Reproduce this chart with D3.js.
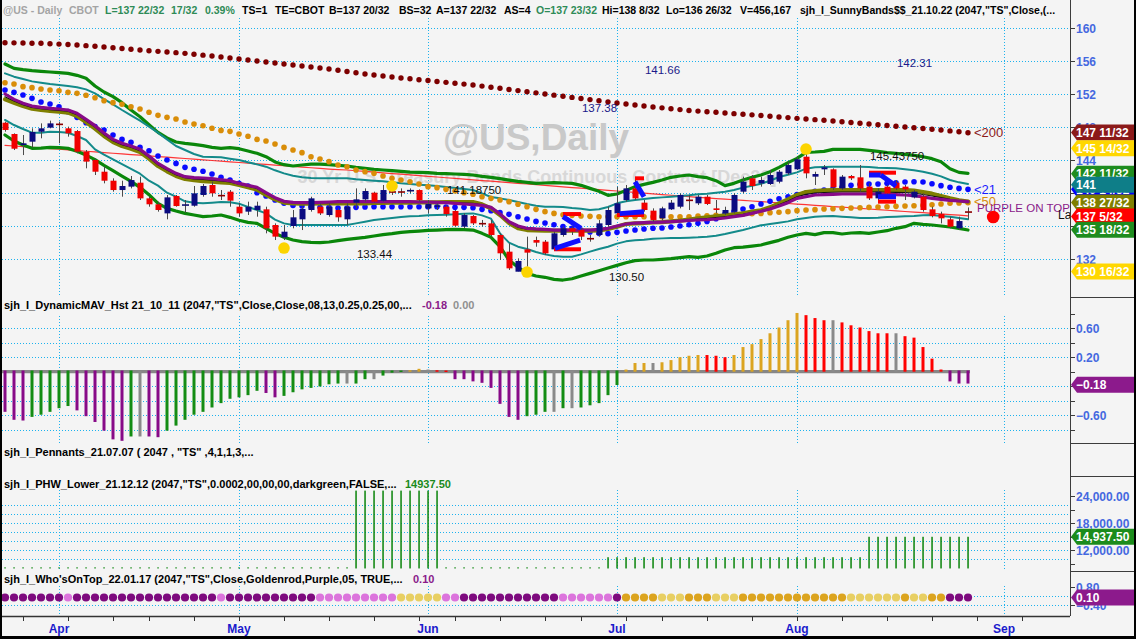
<!DOCTYPE html>
<html><head><meta charset="utf-8">
<script src="https://cdn.jsdelivr.net/npm/d3@7"></script>
<style>
html,body{margin:0;padding:0;background:#f4f4f4;overflow:hidden;}
svg{display:block;font-family:"Liberation Sans",Arial,sans-serif;}
</style></head><body>
<svg id="c" width="1136" height="639"></svg>
<script>
// ================= DATA =================
const months=['Apr','May','Jun','Jul','Aug','Sep'];
const monthStart=[6,26,47,68,88,111];           // bar index of first trading day of month
const weekStart=[2,7,12,16,21,26,31,36,41,46,50,55,60,64,69,73,78,83,88,93,98,103,108,113];

const open=[148.52,147.15,145.82,146.22,147.43,147.92,148.40,147.84,147.51,145.01,
144.00,142.58,141.49,140.36,140.77,141.25,139.35,138.63,137.53,139.64,
138.46,138.46,139.76,140.97,139.76,140.16,138.34,137.74,137.94,138.02,
136.12,134.63,136.00,136.81,137.94,138.34,137.33,137.94,136.81,138.83,
139.23,140.04,139.07,140.20,140.20,140.20,140.36,138.14,138.34,138.34,
137.82,135.92,137.21,136.36,136.32,134.91,132.89,130.46,133.17,134.30,
134.10,133.17,134.91,135.72,135.51,134.54,134.91,136.12,137.53,139.15,
140.56,138.83,137.86,136.93,138.02,138.34,139.19,138.75,139.55,138.14,
137.53,137.74,140.16,141.78,141.17,141.09,141.37,142.38,142.87,144.40,
141.98,142.87,142.87,140.56,142.06,141.90,140.77,139.35,140.77,141.25,
140.77,139.47,139.55,138.02,137.45,136.81,135.72,137.72];
const high=[148.65,147.23,147.03,147.84,148.44,148.77,148.65,148.04,147.64,145.21,
144.20,143.19,141.78,141.49,142.06,141.98,139.55,138.95,139.76,139.76,
139.15,140.85,141.09,141.37,140.36,140.36,138.83,138.95,138.95,138.34,
136.32,136.12,137.94,138.34,139.55,138.75,138.75,138.14,138.75,140.56,
140.56,140.16,140.97,140.77,140.56,140.56,140.44,139.15,138.75,138.54,
137.94,137.53,137.33,136.73,136.73,135.11,133.90,132.08,134.71,134.71,
134.30,135.31,135.92,135.92,135.72,134.91,136.73,138.34,140.77,140.97,
141.78,139.15,138.14,138.34,139.15,139.96,139.76,139.76,139.76,139.15,
138.34,139.96,141.98,142.18,141.98,142.79,142.79,143.80,144.40,144.90,
142.58,143.39,142.99,142.18,142.18,143.39,141.17,140.56,140.97,141.57,
140.97,140.36,139.96,138.34,137.74,137.13,137.13,138.25];
const low=[147.43,145.21,144.60,145.53,146.63,147.84,146.02,146.83,144.81,142.99,
142.18,141.17,140.16,139.55,140.56,139.15,138.34,137.74,136.81,138.34,
137.62,138.34,139.55,139.55,139.15,138.34,137.13,137.33,137.13,135.11,
134.30,134.30,135.72,135.51,137.74,137.33,137.13,136.52,136.12,138.14,
138.95,138.83,138.95,139.76,139.55,139.96,138.95,137.53,137.94,137.13,
135.92,135.72,136.12,135.92,134.71,131.88,130.67,130.50,131.07,133.49,
132.48,133.09,134.71,134.91,134.30,134.10,134.71,135.92,137.33,138.95,
139.15,137.74,136.52,136.73,137.94,138.14,137.94,138.54,138.54,137.53,
137.33,137.53,139.96,140.36,140.77,140.97,141.17,142.18,142.79,141.78,
140.97,142.18,140.36,140.36,141.57,140.16,139.15,139.15,139.76,140.36,
139.15,139.35,137.74,137.05,136.32,135.72,135.51,136.81];
const close=[147.64,145.37,146.02,147.39,147.84,148.44,148.32,147.23,145.01,143.80,
142.58,141.49,140.36,140.85,141.57,139.35,138.63,137.94,139.47,138.42,
138.54,139.96,140.85,139.96,139.68,139.07,137.53,138.34,138.46,135.72,
134.71,135.31,137.05,138.06,139.35,137.53,138.34,137.05,138.34,139.23,
140.24,138.95,140.36,140.12,140.12,140.28,139.15,138.67,138.50,137.45,
136.04,137.33,136.32,136.28,134.91,132.69,130.87,131.76,132.77,133.98,
132.69,135.11,135.72,135.31,134.71,134.46,136.32,137.94,138.75,140.56,
139.35,137.94,136.73,138.14,138.83,139.76,139.11,139.55,138.67,137.94,
137.94,139.76,141.37,140.85,141.57,142.18,142.58,143.39,144.08,142.38,
142.30,143.11,140.69,141.98,141.78,140.56,139.35,140.16,139.96,140.56,
140.44,140.16,137.94,137.21,136.93,135.92,136.60,137.69];

const sma200=[158.22,158.20,158.18,158.16,158.15,158.10,158.05,158.00,157.94,157.86,
157.78,157.70,157.61,157.52,157.43,157.34,157.25,157.17,157.09,157.01,
156.93,156.82,156.71,156.60,156.48,156.36,156.24,156.12,156.00,155.88,
155.76,155.64,155.52,155.40,155.28,155.15,155.03,154.88,154.73,154.58,
154.42,154.30,154.18,154.06,153.94,153.84,153.73,153.63,153.52,153.41,
153.31,153.20,153.09,152.96,152.82,152.69,152.55,152.41,152.28,152.14,
152.00,151.86,151.73,151.59,151.45,151.32,151.18,151.05,150.91,150.79,
150.67,150.54,150.42,150.32,150.21,150.11,150.00,149.93,149.85,149.78,
149.70,149.62,149.55,149.47,149.39,149.31,149.22,149.14,149.05,148.97,
148.89,148.81,148.73,148.64,148.55,148.45,148.36,148.27,148.18,148.09,
148.00,147.91,147.82,147.73,147.64,147.53,147.42,147.31];
const ema50=[153.37,153.21,152.89,152.77,152.60,152.48,152.40,152.20,152.08,151.84,
151.55,151.19,150.95,150.75,150.46,150.18,149.78,149.41,149.17,148.97,
148.61,148.36,148.16,147.84,147.59,147.47,147.15,146.87,146.50,146.30,
145.94,145.53,145.21,144.89,144.40,144.12,143.80,143.39,143.19,
142.79,142.59,142.38,142.06,141.78,141.57,141.37,141.09,140.77,140.65,
140.44,140.24,140.04,139.84,139.55,139.35,139.15,138.95,138.63,138.34,
138.02,137.74,137.53,137.37,137.29,137.21,137.17,137.13,137.13,137.13,
137.13,137.13,137.13,137.13,137.13,137.13,137.13,137.13,
137.21,137.25,137.29,137.33,137.41,137.45,137.49,137.53,137.62,137.66,
137.74,137.86,137.94,137.98,138.06,138.10,138.14,138.18,138.22,138.26,
138.30,138.34,138.38,138.42,138.46,138.50,138.58,138.67,138.75,138.79,138.83];
const ema21=[152.48,152.20,151.88,151.47,151.03,150.79,150.46,149.86,149.17,148.52,
148.04,147.64,147.03,146.50,146.14,145.53,145.13,144.48,144.00,143.59,
143.11,142.87,142.63,142.30,141.90,141.57,141.17,140.85,140.04,139.64,
139.15,138.75,138.50,138.42,138.34,138.26,138.26,138.18,138.18,
138.26,138.30,138.34,138.34,138.34,138.34,138.34,138.34,138.34,138.34,
138.30,138.26,138.26,138.22,138.02,137.86,137.62,137.41,137.13,136.85,
136.56,136.36,136.16,135.92,135.72,135.51,135.27,135.11,135.07,135.23,
135.39,135.51,135.64,135.72,135.76,135.88,136.00,136.16,
136.32,136.56,136.89,137.45,137.74,138.06,138.34,138.67,138.99,139.31,
139.55,139.80,140.00,140.20,140.36,140.52,140.69,140.93,141.05,141.09,
141.09,141.17,141.25,141.33,141.37,141.33,141.13,140.89,140.69,140.56,140.44];
const trendLine=[145.78,145.70,145.62,145.54,145.46,145.38,145.30,145.22,145.14,145.06,
144.98,144.90,144.82,144.74,144.66,144.58,144.50,144.42,144.34,144.26,
144.18,144.10,144.02,143.94,143.86,143.78,143.70,143.62,143.54,143.46,
143.38,143.30,143.22,143.14,143.06,142.98,142.90,142.84,142.79,
142.70,142.62,142.53,142.45,142.36,142.28,142.19,142.11,142.02,141.94,
141.85,141.77,141.68,141.60,141.51,141.43,141.34,141.26,141.17,141.09,
141.00,140.92,140.83,140.75,140.66,140.58,140.49,140.41,140.32,140.24,
140.15,140.07,139.98,139.90,139.81,139.73,139.64,139.56,
139.48,139.41,139.33,139.26,139.18,139.11,139.03,138.96,138.88,138.81,
138.73,138.66,138.58,138.51,138.43,138.36,138.28,138.21,138.13,138.06,
137.98,137.91,137.83,137.76,137.68,137.61,137.53,137.46,137.38,137.31,137.23];
const upperOuter=[155.64,155.11,154.95,154.83,154.75,154.67,154.58,154.50,154.26,153.90,
152.97,152.24,151.68,150.95,150.06,149.25,148.28,147.35,146.67,146.18,
146.02,145.90,145.74,145.53,145.41,145.49,145.37,145.09,144.81,144.40,
143.76,143.43,143.27,143.39,143.51,143.51,143.43,143.35,143.27,
143.11,142.99,142.87,142.79,142.71,142.63,142.54,142.50,142.46,142.38,
142.34,142.30,142.26,142.18,142.02,141.90,141.74,141.57,141.41,141.29,
141.17,141.21,141.25,141.21,141.17,140.93,140.56,140.20,139.72,139.88,
140.32,140.77,141.05,141.29,141.57,141.90,142.06,142.18,
141.98,141.86,141.49,140.89,141.17,141.57,141.90,142.18,142.58,143.11,
143.68,144.20,144.93,144.97,145.05,145.29,145.29,145.29,145.29,145.17,
145.05,144.89,144.81,144.69,144.56,144.40,144.16,143.80,142.95,142.50,142.38];
const lowerOuter=[147.03,146.30,145.82,145.41,145.45,145.53,145.49,145.41,145.05,144.60,
144.04,143.35,142.71,142.06,141.41,140.69,139.80,138.75,138.14,137.82,
137.53,137.33,137.13,137.21,137.33,137.05,136.69,136.44,136.32,135.72,
135.11,134.63,134.30,134.10,134.02,133.98,134.06,134.22,134.38,
134.50,134.63,134.79,134.95,135.07,135.23,135.31,135.39,135.47,135.51,
135.55,135.59,135.55,135.51,135.11,134.63,133.49,131.88,130.99,130.26,
129.94,129.78,129.53,129.45,129.61,129.94,130.26,130.58,130.91,131.23,
131.55,131.80,131.88,131.88,131.96,132.04,132.16,132.28,
132.20,132.36,132.69,133.09,133.37,133.45,133.57,133.70,133.98,134.26,
134.63,134.91,135.11,134.95,135.19,135.19,135.03,135.15,135.19,135.11,
135.27,135.43,135.72,135.92,136.32,136.20,136.12,136.00,135.88,135.72,135.51];
const upperInner=[154.50,154.10,153.82,153.53,153.37,153.21,153.09,152.97,152.81,152.56,
152.08,151.39,150.75,150.06,149.41,148.77,148.04,147.31,146.50,145.70,
145.21,144.73,144.40,144.36,144.32,144.16,144.00,143.72,143.47,143.19,
142.75,142.38,142.10,141.90,141.82,141.78,141.78,141.78,141.78,
141.66,141.57,141.49,141.41,141.29,141.17,141.09,141.01,140.93,140.85,
140.73,140.60,140.48,140.36,139.96,139.51,139.35,139.15,138.91,138.67,
138.46,138.34,138.34,138.30,138.18,138.10,137.94,138.02,138.30,138.75,
138.99,139.15,139.27,139.39,139.47,139.55,139.64,139.72,
139.84,139.92,140.04,140.16,140.36,140.65,140.89,141.13,141.49,141.94,
142.22,142.50,142.95,143.11,143.15,143.19,143.19,143.19,143.19,143.15,
143.07,143.03,142.99,142.87,142.75,142.58,142.34,142.02,141.57,141.29,141.09];
const lowerInner=[148.85,148.24,147.76,147.31,147.31,147.43,147.39,147.31,146.91,146.42,
145.29,144.65,144.08,143.51,142.91,142.34,141.49,140.89,140.04,139.55,
138.99,138.83,138.75,138.83,138.91,138.87,138.71,138.30,137.94,137.53,
136.77,136.32,136.12,136.12,136.12,136.12,136.12,136.12,136.12,
136.32,136.52,136.73,136.85,136.97,137.09,137.17,137.21,137.29,137.33,
137.37,137.41,137.49,137.53,137.29,136.89,135.11,133.98,133.49,133.21,
132.85,132.56,132.36,132.28,132.28,132.56,132.89,133.21,133.49,133.86,
134.14,134.26,134.34,134.46,134.50,134.54,134.54,134.58,
134.63,134.71,134.83,135.03,135.27,135.51,135.80,136.08,136.24,136.40,
136.56,136.81,136.97,137.13,137.17,137.21,137.13,137.05,136.97,136.97,
137.01,137.09,137.13,137.17,137.21,137.29,137.33,137.21,137.13,136.97,136.81];
const fastMA=[152.00,151.35,150.87,150.54,150.38,150.26,150.18,150.06,149.66,148.93,
148.16,147.27,146.50,146.02,145.70,145.29,144.48,143.59,142.95,142.38,
141.98,141.86,141.82,141.74,141.61,141.49,141.17,140.93,140.69,140.04,
139.43,138.99,138.87,138.83,138.83,138.87,138.91,138.95,138.95,
138.95,138.95,138.95,138.95,138.95,138.95,138.95,138.91,138.91,138.87,
138.83,138.75,138.67,138.58,138.50,138.26,137.45,136.52,136.00,135.72,
135.64,135.59,135.51,135.51,135.51,135.51,135.51,135.59,135.72,136.00,
136.24,136.36,136.40,136.44,136.48,136.52,136.60,136.69,
136.73,136.77,136.85,136.97,137.13,137.29,137.53,137.78,138.06,138.42,
138.83,139.35,139.55,139.76,139.80,139.84,139.88,139.88,139.88,139.88,
139.88,139.84,139.80,139.76,139.68,139.51,139.35,139.23,139.11,139.03,138.95];
const slowMA=[151.35,150.95,150.54,150.22,150.06,149.94,149.86,149.74,149.33,148.60,
147.80,146.91,146.18,145.70,145.37,144.97,144.16,143.27,142.63,142.06,
141.70,141.57,141.45,141.37,141.29,141.21,140.97,140.69,140.40,139.76,
139.23,138.83,138.75,138.71,138.71,138.75,138.75,138.75,138.75,
138.75,138.75,138.79,138.79,138.83,138.83,138.83,138.87,138.87,138.87,
138.91,138.91,138.91,138.91,138.63,138.14,137.33,136.36,135.72,135.51,
135.47,135.43,135.43,135.43,135.43,135.43,135.43,135.47,135.64,135.92,
136.24,136.32,136.36,136.44,136.48,136.56,136.65,136.77,
136.93,137.05,137.17,137.29,137.41,137.53,137.74,137.90,138.26,138.75,
139.23,139.76,140.12,140.24,140.32,140.36,140.36,140.36,140.36,140.36,
140.36,140.36,140.36,140.36,140.28,140.12,139.92,139.64,139.35,139.11,138.95];

// pennant segments: [i0,p0,i1,p1,kind]  kind R = red edge, B = blue leg
const pennants=[
 [62,137.45,64,137.45,'R'],[61,133.18,64,133.18,'R'],
 [62,137.13,64,135.72,'B'],[61.1,133.30,63.9,134.30,'B'],
 [70,141.78,71,141.78,'R'],[70,141.37,71,139.55,'B'],
 [68,137.33,71,137.33,'R'],[68.3,137.50,71,137.74,'B'],
 [96,142.46,99,142.46,'R'],[96,142.18,97.3,142.18,'B'],[97.3,142.18,99,140.85,'B'],
 [97,139.55,99,139.55,'B'],[97,138.95,99,138.95,'R']
];
const pivotDots=[{i:31,p:133.33},{i:43,p:140.85},{i:58,p:130.42},{i:89,p:145.33}];
const annotations=[
 {i:71.1,p:154.48,t:'141.66',k:'N'},{i:64.1,p:149.76,t:'137.38',k:'N'},
 {i:99.1,p:155.27,t:'142.31',k:'N'},{i:49.1,p:139.88,t:'141.18750',k:'K'},
 {i:39.1,p:132.12,t:'133.44',k:'K'},{i:67.1,p:129.33,t:'130.50',k:'K'},
 {i:96.1,p:144.00,t:'145.43750',k:'K'}
];
const whoSignal={i:109.8,p:137.09,t:'PURPLE ON TOP',ti:108,tp:137.82};
const priceTicks=[160,156,152,148,144,140,136,132];
const priceLabels=[160,156,152,148,144,132];
const priceMarkers=[
 {v:140.44,t:'140 14/32',c:'#0000ff'},
 {v:147.34,t:'147 11/32',c:'#8b1a1a'},
 {v:145.4375,t:'145 14/32',c:'#ffd700'},
 {v:142.34,t:'142 11/32',c:'#1e8c1e'},
 {v:141.0,t:'141',c:'#0e7e88'},
 {v:138.84,t:'138 27/32',c:'#7f7f00'},
 {v:137.16,t:'137 5/32',c:'#ff0000'},
 {v:135.56,t:'135 18/32',c:'#1e8c1e'},
 {v:130.5,t:'130 16/32',c:'#ffd700'}
];

const hist=[-0.57,-0.68,-0.69,-0.64,-0.61,-0.57,-0.52,-0.49,-0.55,-0.63,
-0.71,-0.83,-0.95,-0.97,-0.91,-0.91,-0.91,-0.92,-0.83,-0.76,
-0.68,-0.61,-0.57,-0.51,-0.45,-0.39,-0.37,-0.34,-0.28,-0.31,
-0.37,-0.35,-0.30,-0.26,-0.24,-0.22,-0.19,-0.18,-0.18,-0.18,
-0.12,-0.12,-0.07,-0.03,-0.01,0.02,0.04,0.03,0.02,0.01,
-0.12,-0.12,-0.15,-0.17,-0.24,-0.46,-0.64,-0.68,-0.63,-0.61,
-0.57,-0.57,-0.52,-0.52,-0.51,-0.48,-0.45,-0.34,-0.20,0.03,
0.12,0.12,0.12,0.13,0.16,0.20,0.22,0.23,0.23,0.22,
0.20,0.23,0.34,0.38,0.45,0.53,0.61,0.71,0.81,0.78,
0.74,0.71,0.71,0.68,0.64,0.61,0.56,0.53,0.53,0.53,
0.49,0.47,0.34,0.18,0.03,-0.15,-0.18,-0.18];
const histState=("PPPGGGGGPP"+"PPPPGNPPGG"+"GGGGGGGGGP"+"PGGGGGGGNG"+"GNGGGAANRR"+
 "PPPPPPPPGG"+"GNGNGGGGGA"+"AANAAAAARR"+"RAAAAAAAAR"+"RRNRRRRRRN"+"RRRRRPPP").split('');
const histTicks=[0.6,0.2,-0.6];

const phw=[8150,8150,8150,8150,8150,8150,8150,8150,8150,8150,
8150,8150,8150,8150,8150,8150,8150,8150,8150,8150,
8150,8150,8150,8150,8150,8150,8150,8150,8150,8150,
8150,8150,8150,8150,8150,8150,8150,8150,8150,25200,
25200,25200,25200,25200,25200,25200,25200,25200,25200,8150,
8150,8150,8150,8150,8150,8150,8150,8150,8150,8150,
8150,8150,8150,8150,8150,8150,8150,10400,10400,10400,
10400,10400,10400,10400,10400,10400,10400,10400,10400,10400,
10400,10400,10400,10400,10400,10400,10400,10400,10400,10400,
10400,10400,10400,10400,10400,10400,14937.5,14937.5,14937.5,14937.5,
14937.5,14937.5,14937.5,14937.5,14937.5,14937.5,14937.5,14937.5];
const phwTicks=[24000,18000,12000];

const whoOnTop=("DDDDDDDODD"+"DDDDDDDDDD"+"DDDDODDDDD"+"DDDDDOOOOO"+"OOOOLLLLLO"+
 "ODDDDDDDDD"+"DDOOOOOODG"+"GGGLLLGGGL"+"LLGGGGGGGG"+"GGGGLLLLLL"+"GLLGGDDD").split('');
const whoValue=0.10;
const whoTicks=[0.8,-0.4];

// ================= LAYOUT / STYLE =================
const FONT='"Liberation Sans",Arial,sans-serif';
const AX=1070;
const GRID='#1cb2ee';
const svg=d3.select('#c');
const N=close.length;
const idx=d3.range(N);

const x=d3.scaleLinear().domain([0,107]).range([5,968]);
const yP=d3.scaleLinear().domain([132,160]).range([259,28]);
const yH=d3.scaleLinear().domain([-0.6,0.6]).range([415.2,328.2]);
const yW=d3.scaleLinear().domain([12000,24000]).range([550,496]);
const yO=d3.scaleLinear().domain([-0.4,0.8]).range([605,587]);

svg.append('rect').attr('width',1136).attr('height',639).attr('fill','#f4f4f4');

function hgrid(g,y,x0,x1){g.append('line').attr('x1',x0).attr('x2',x1).attr('y1',Math.round(y)+0.5).attr('y2',Math.round(y)+0.5)
 .attr('stroke',GRID).attr('stroke-width',1).attr('stroke-dasharray','1,2');}
function vgrid(g,xx,y0,y1){g.append('line').attr('x1',Math.round(xx)+0.5).attr('x2',Math.round(xx)+0.5).attr('y1',y0).attr('y2',y1)
 .attr('stroke',GRID).attr('stroke-width',1).attr('stroke-dasharray','1,2');}

const grid=svg.append('g');
priceTicks.forEach(v=>hgrid(grid,yP(v),2,AX));
[0.6,0.4,0.2,-0.2,-0.4,-0.6,-0.8].forEach(v=>hgrid(grid,yH(v),2,AX));
[22000,20000,18000,16000,14000,12000,10000].forEach(v=>hgrid(grid,yW(v),2,AX));
[0.2,-0.4].forEach(v=>hgrid(grid,yO(v),2,AX));
monthStart.forEach(m=>{const xx=x(m);
 vgrid(grid,xx,18,297);vgrid(grid,xx,316,443);vgrid(grid,xx,490,571);vgrid(grid,xx,586,616);});

// watermark
svg.append('text').attr('x',536).attr('y',150).attr('text-anchor','middle').attr('font-family',FONT)
 .attr('font-weight','bold').attr('font-size',37).attr('fill','#c9c9c9').text('@US,Daily');
svg.append('text').attr('x',537).attr('y',183).attr('text-anchor','middle').attr('font-family',FONT)
 .attr('font-weight','bold').attr('font-size',18).attr('fill','#d8d8d8').text('30 Yr U.S. Treasury Bonds Continuous Contract [Dec22]');

// ================= PRICE PANEL =================
svg.append('clipPath').attr('id','cp').append('rect').attr('x',0).attr('y',18).attr('width',AX).attr('height',279);
const pp=svg.append('g').attr('clip-path','url(#cp)');
const line=arr=>d3.line().x((d,i)=>x(i)).y(d=>yP(d))(arr);
function path(arr,col,w,op){pp.append('path').attr('d',line(arr)).attr('fill','none').attr('stroke',col)
 .attr('stroke-width',w).attr('stroke-linejoin','round').attr('stroke-linecap','round').attr('opacity',op||1);}

path(trendLine,'#ff2020',1.2,0.9);
path(upperOuter,'#0a870a',3.2);
path(lowerOuter,'#0a870a',3.2);
path(upperInner,'#138a8a',2);
path(lowerInner,'#138a8a',2);
pp.append('g').selectAll('circle').data(sma200).join('circle').attr('cx',(d,i)=>x(i)).attr('cy',d=>yP(d)).attr('r',2.7).attr('fill','#7d0000');
pp.append('g').selectAll('circle').data(ema50).join('circle').attr('cx',(d,i)=>x(i)).attr('cy',d=>yP(d)).attr('r',2.8).attr('fill','#d98d08');
pp.append('g').selectAll('circle').data(ema21).join('circle').attr('cx',(d,i)=>x(i)).attr('cy',d=>yP(d)).attr('r',2.8).attr('fill','#0a0aff');
path(slowMA,'#7f7f00',4.2);
path(idx.map(i=>(slowMA[i]+fastMA[i])/2),'#111',1.1);
path(fastMA,'#880a88',3.2);

// candles
const gC=pp.append('g');
idx.forEach(i=>{
 const o=open[i],h=high[i],l=low[i],c=close[i];
 const up=c>=o, xx=x(i);
 gC.append('line').attr('x1',xx+0.5).attr('x2',xx+0.5).attr('y1',yP(h)).attr('y2',yP(l)).attr('stroke','#4a4a4a').attr('stroke-width',1);
 if(Math.abs(c-o)<0.1){
  gC.append('rect').attr('x',xx-3).attr('y',yP(c)-0.8).attr('width',7).attr('height',1.6).attr('fill',up?'#101070':'#8b0000');
 } else {
  const y0=yP(Math.max(o,c)),y1=yP(Math.min(o,c));
  gC.append('rect').attr('x',xx-2.5).attr('y',y0).attr('width',6).attr('height',Math.max(1.5,y1-y0)).attr('fill',up?'#0b0b80':'#f00000');
 }
});
// pennants
pennants.forEach(s=>{
 pp.append('line').attr('x1',x(s[0])).attr('y1',yP(s[1])).attr('x2',x(s[2])).attr('y2',yP(s[3]))
  .attr('stroke',s[4]==='R'?'#ff0000':'#1010ff').attr('stroke-width',s[4]==='R'?4:5).attr('stroke-linecap','butt');
});
pivotDots.forEach(d=>pp.append('circle').attr('cx',x(d.i)).attr('cy',yP(d.p)).attr('r',5.8).attr('fill','#fcd400'));
annotations.forEach(a=>pp.append('text').attr('x',x(a.i)).attr('y',yP(a.p)).attr('font-family',FONT).attr('font-size',11.5)
 .attr('fill',a.k==='N'?'#1a1a8a':'#111').text(a.t));
const last=N-1;
[[sma200,'<200','#8b1a1a',4],[ema21,'<21','#1c1cff',5],[ema50,'<50','#d98d08',3]].forEach(r=>{
 pp.append('text').attr('x',x(last)+6).attr('y',yP(r[0][last])+r[3]).attr('font-family',FONT).attr('font-size',13)
  .attr('fill',r[2]).text(r[1]);
});
pp.append('text').attr('x',x(whoSignal.ti)).attr('y',yP(whoSignal.tp)+1).attr('font-family',FONT).attr('font-size',11.5)
 .attr('fill','#8a1a8a').text(whoSignal.t);
pp.append('circle').attr('cx',x(whoSignal.i)).attr('cy',yP(whoSignal.p)).attr('r',6.3).attr('fill','#ff0000');
pp.append('text').attr('x',1058).attr('y',219).attr('font-family',FONT).attr('font-size',12).attr('fill','#111').text('La');

// ================= HISTOGRAM PANEL =================
const hp=svg.append('g');
const hCol={P:'#870a87',G:'#138c13',N:'#8a8a8a',A:'#dba420',R:'#ff0000'};
hp.append('line').attr('x1',x(0)-3).attr('x2',x(last)+2).attr('y1',yH(0)).attr('y2',yH(0)).attr('stroke','#878787').attr('stroke-width',3.2);
hp.selectAll('rect').data(hist).join('rect')
 .attr('x',(d,i)=>x(i)-1.5).attr('width',3)
 .attr('y',d=>Math.min(yH(d),yH(0)-1.2)).attr('height',d=>Math.max(Math.abs(yH(d)-yH(0)),1.5))
 .attr('fill',(d,i)=>hCol[histState[i]]);

// ================= PHW PANEL =================
const base=7900;
svg.append('g').selectAll('rect').data(phw).join('rect')
 .attr('x',(d,i)=>x(i)-0.7).attr('width',1.5)
 .attr('y',d=>yW(d)).attr('height',d=>yW(base)-yW(d)).attr('fill','#0b840b');

// ================= WHO'S ON TOP =================
const wCol={D:'#7e0a7e',O:'#dc74dc',G:'#dca41e',L:'#e8cf62'};
svg.append('g').selectAll('circle').data(whoOnTop).join('circle')
 .attr('cx',(d,i)=>x(i)).attr('cy',yO(whoValue)).attr('r',4.1).attr('fill',d=>wCol[d]);

// ================= RIGHT AXIS =================
const ax=svg.append('g').attr('font-family',FONT);
ax.append('line').attr('x1',AX+0.5).attr('x2',AX+0.5).attr('y1',0).attr('y2',616).attr('stroke','#3c3c3c');
[297,443,476,571].forEach(y=>ax.append('line').attr('x1',AX).attr('x2',1134).attr('y1',y+0.5).attr('y2',y+0.5).attr('stroke','#3c3c3c'));
function tick(y){ax.append('line').attr('x1',AX).attr('x2',AX+5).attr('y1',Math.round(y)+0.5).attr('y2',Math.round(y)+0.5).attr('stroke','#3c3c3c');}
function lab(y,t){ax.append('text').attr('x',AX+6).attr('y',y+4.5).attr('font-size',12).attr('font-weight','bold').attr('fill','#4468e0').text(t);}
priceTicks.forEach(v=>tick(yP(v)));
priceLabels.forEach(v=>lab(yP(v),v));
[0.8,0.6,0.4,0.2,0,-0.2,-0.4,-0.6,-0.8].forEach(v=>tick(yH(v)));
histTicks.forEach(v=>lab(yH(v),d3.format('.2f')(v)));
[24000,21000,18000,15000,12000,9000].forEach(v=>tick(yW(v)));
phwTicks.forEach(v=>lab(yW(v),d3.format(',.2f')(v)));
whoTicks.forEach(v=>{tick(yO(v));lab(yO(v),d3.format('.2f')(v));});

function flag(y,col,t){
 const h=8;
 ax.append('path').attr('d',`M${AX+1},${y} L${AX+7},${y-h} L1134,${y-h} L1134,${y+h} L${AX+7},${y+h} Z`).attr('fill',col);
 ax.append('text').attr('x',AX+6).attr('y',y+4.5).attr('font-size',12).attr('font-weight','bold').attr('fill','#fff').text(t);
}
priceMarkers.forEach(m=>flag(yP(m.v),m.c,m.t));
flag(yH(hist[last]),'#8c1a8c',d3.format('.2f')(hist[last]));
flag(yW(phw[last]),'#1c8c1c',d3.format(',.2f')(phw[last]));
flag(yO(whoValue),'#8c1a8c',d3.format('.2f')(whoValue));

// ================= X AXIS =================
const xa=svg.append('g').attr('font-family',FONT);
xa.append('line').attr('x1',0).attr('x2',AX).attr('y1',616.5).attr('y2',616.5).attr('stroke','#333').attr('stroke-width',1.3);
weekStart.forEach(w=>xa.append('line').attr('x1',x(w)+0.5).attr('x2',x(w)+0.5).attr('y1',617).attr('y2',621).attr('stroke','#333'));
monthStart.forEach((m,k)=>xa.append('text').attr('x',x(m)).attr('y',633).attr('text-anchor','middle')
 .attr('font-size',12).attr('font-weight','bold').attr('fill','#1a1acc').text(months[k]));

// ================= HEADER & TITLES =================
const hdr=[
 ['@US - Daily',3,'#a4a4a4'],['CBOT',69,'#a4a4a4'],['L=137 22/32',105,'#2e8b57'],['17/32',171,'#2e8b57'],['0.39%',205,'#2e8b57'],
 ['TS=1',242,'#000'],['TE=CBOT',275,'#000'],['B=137 20/32',329,'#000'],['BS=32',399,'#000'],['A=137 22/32',436,'#000'],['AS=4',504,'#000'],
 ['O=137 23/32',536,'#2e8b57'],['Hi=138 8/32',602,'#000'],['Lo=136 26/32',666,'#000'],['V=456,167',740,'#000'],
 ['sjh_I_SunnyBands$$_21.10.22 (2047,"TS",Close,(...',800,'#000']];
const ht=svg.append('g').attr('font-family',FONT).attr('font-weight','bold');
hdr.forEach(h=>ht.append('text').attr('x',h[1]).attr('y',14).attr('font-size',10.5).attr('fill',h[2]).text(h[0]));
function title(y,parts){let g=ht.append('text').attr('y',y).attr('font-size',11);parts.forEach(p=>g.append('tspan').attr('x',p[1]).attr('fill',p[2]).text(p[0]));}
title(309,[['sjh_I_DynamicMAV_Hst 21_10_11 (2047,"TS",Close,Close,08,13,0.25,0.25,00,...',4,'#000'],['-0.18',422,'#8a1a8a'],['0.00',453,'#909090']]);
title(456,[['sjh_I_Pennants_21.07.07 ( 2047 , "TS" ,4,1,1,3,...',4,'#000']]);
title(488,[['sjh_I_PHW_Lower_21.12.12 (2047,"TS",0.0002,00,00,00,darkgreen,FALSE,...',4,'#000'],['14937.50',405,'#1a8a1a']]);
title(583,[['sjh_I_Who\'sOnTop_22.01.17 (2047,"TS",Close,Goldenrod,Purple,05, TRUE,...',4,'#000'],['0.10',413,'#8a1a8a']]);

// borders
svg.append('rect').attr('x',0).attr('y',0).attr('width',2).attr('height',639).attr('fill','#000');
svg.append('rect').attr('x',0).attr('y',636).attr('width',1136).attr('height',3).attr('fill','#000');
svg.append('rect').attr('x',1134).attr('y',0).attr('width',2).attr('height',639).attr('fill','#000');
</script>
</body></html>
